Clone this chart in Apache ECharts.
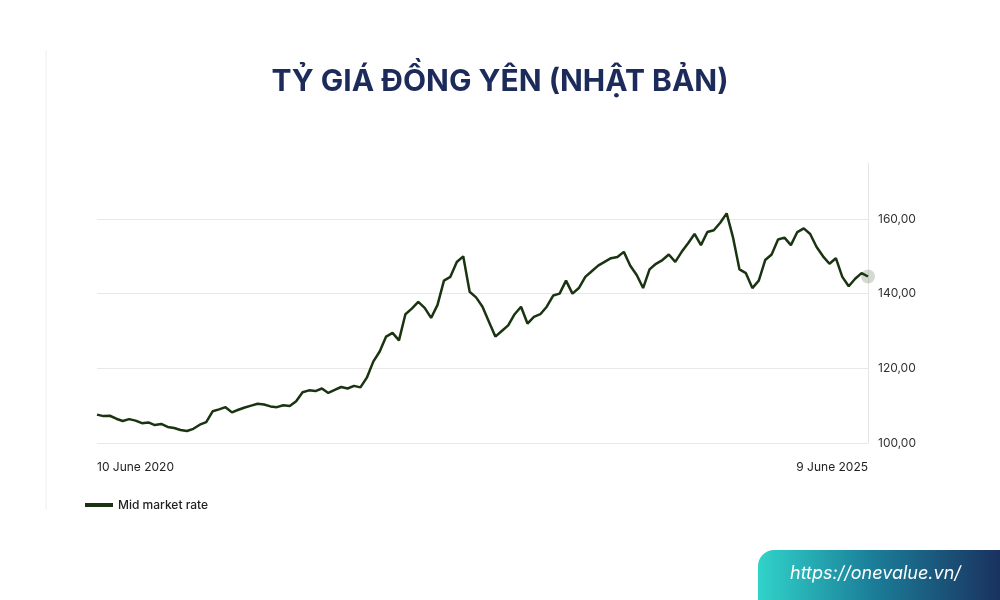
<!DOCTYPE html>
<html>
<head>
<meta charset="utf-8">
<script src="https://cdn.jsdelivr.net/npm/echarts@6/dist/echarts.min.js"></script>
<style>html,body{margin:0;padding:0;background:#fff}#chart{width:1000px;height:600px}</style>
</head>
<body>
<div id="chart"></div>
<script>
// JPY per USD, two readings per month, 10 June 2020 .. 9 June 2025
const rates = [
	107.6, 107.2, 107.3, 106.5, 105.9, 106.4, 106.0, 105.3, 105.5, 104.8, 105.1, 104.3, 104.0, 103.5,
	103.2, 103.8, 104.9, 105.6, 108.5, 109.0, 109.6, 108.2, 108.9, 109.5, 110.0, 110.5, 110.3, 109.8,
	109.6, 110.1, 109.9, 111.2, 113.6, 114.1, 113.9, 114.6, 113.4, 114.2,
	115.0, 114.6, 115.3, 114.9, 117.5, 121.8, 124.5, 128.5, 129.5, 127.5, 134.5, 136.0, 137.8, 136.2,
	133.5, 137.0, 143.5, 144.5, 148.5, 150.0, 140.5, 139.0, 136.5, 132.5,
	128.5, 130.0, 131.5, 134.5, 136.5, 132.0, 133.8, 134.5, 136.5, 139.5, 140.0, 143.5, 140.0, 141.5,
	144.5, 146.0, 147.5, 148.5, 149.5, 149.8, 151.2, 147.5, 145.0, 141.5,
	146.5, 148.0, 149.0, 150.5, 148.5, 151.2, 153.5, 156.0, 153.0, 156.5, 157.0, 159.0, 161.5, 155.0,
	146.5, 145.5, 141.5, 143.5, 149.0, 150.5, 154.5, 155.0, 153.0, 156.5,
	157.5, 156.0, 152.5, 150.0, 148.0, 149.5, 144.5, 142.0, 144.0, 145.5, 144.6
];
const edgeLabels = ['10 June 2020', '9 June 2025'];
const title = 'TỶ GIÁ ĐỒNG YÊN (NHẬT BẢN)';
const seriesName = 'Mid market rate';

const cats = rates.map((v, i) => i === 0 ? edgeLabels[0] : (i === rates.length - 1 ? edgeLabels[1] : String(i)));
const lastIdx = rates.length - 1;

const chart = echarts.init(document.getElementById('chart'));
chart.setOption({
	backgroundColor: '#fff',
	animation: false,
	title: {
		text: title,
		left: 495,
		textAlign: 'center',
		top: 62,
		textStyle: {color: '#1c2b5a', fontSize: 30, fontWeight: 'bold', fontFamily: 'Inter'}
	},
	legend: {
		left: 80,
		top: 494,
		itemWidth: 28,
		itemHeight: 4,
		icon: 'rect',
		textStyle: {color: '#222', fontSize: 12, fontWeight: 500, fontFamily: 'Inter'},
		data: [seriesName]
	},
	grid: {left: 97, right: 132, top: 163, bottom: 157},
	xAxis: {
		type: 'category',
		boundaryGap: false,
		data: cats,
		axisLine: {show: false},
		axisTick: {show: false},
		axisLabel: {
			interval: (i) => i === 0 || i === lastIdx,
			color: '#222', fontSize: 12, fontFamily: 'Inter', margin: 18,
			alignMinLabel: 'left', alignMaxLabel: 'right'
		},
		splitLine: {show: false}
	},
	yAxis: {
		type: 'value',
		position: 'right',
		min: 100, max: 175, interval: 20,
		axisLine: {show: true, lineStyle: {color: '#e6e6e6'}},
		axisTick: {show: false},
		axisLabel: {
			showMaxLabel: false,
			color: '#333', fontSize: 12, fontFamily: 'Inter', margin: 10,
			formatter: (v) => v.toFixed(2).replace('.', ',')
		},
		splitLine: {showMaxLine: false, lineStyle: {color: '#e8e8e8'}}
	},
	series: [{
		name: seriesName,
		type: 'line',
		data: rates,
		symbol: 'none',
		lineStyle: {color: '#1a3310', width: 2.5},
		itemStyle: {color: '#1a3310'},
		markPoint: {
			symbol: 'circle',
			symbolSize: 14,
			label: {show: false},
			itemStyle: {color: 'rgba(40,70,30,0.2)'},
			data: [{coord: [lastIdx, rates[lastIdx]]}]
		}
	}],
	graphic: [
		{type: 'line', shape: {x1: 46, y1: 50, x2: 46, y2: 510}, style: {stroke: '#eeeeee', lineWidth: 1}},
		{
			type: 'rect',
			shape: {x: 758, y: 550, width: 250, height: 50, r: [16, 0, 0, 0]},
			style: {fill: new echarts.graphic.LinearGradient(0, 0, 1, 0, [
				{offset: 0, color: '#31d3c9'}, {offset: 0.45, color: '#1b7f9a'}, {offset: 1, color: '#1a2d5c'}
			])}
		},
		{
			type: 'text', x: 790, y: 565,
			style: {text: 'https://onevalue.vn/', fill: '#fff', fontSize: 18, fontStyle: 'italic', fontFamily: 'Inter'}
		}
	]
});
</script>
</body>
</html>
